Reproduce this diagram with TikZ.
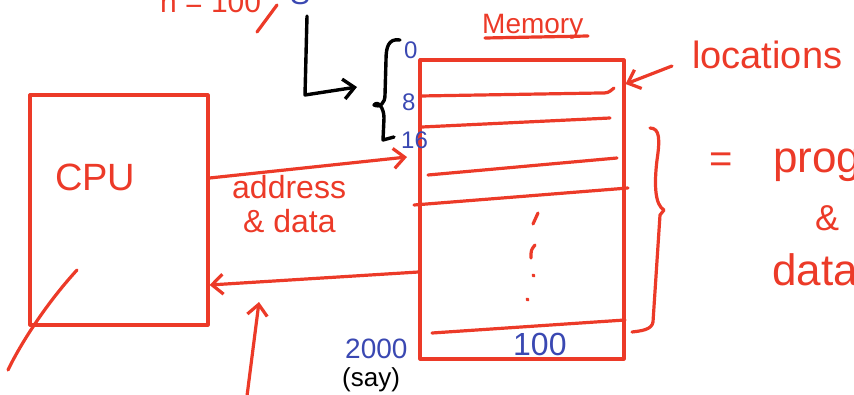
\documentclass[tikz,border=0pt]{standalone}
\usepackage{fontspec}
\setmainfont{Liberation Sans}
\usetikzlibrary{arrows.meta}

\definecolor{ink}{RGB}{236,58,40}
\definecolor{pen}{RGB}{58,72,178}

\tikzset{
  redpen/.style = {draw = ink, line width = 3.2pt, line cap = round, line join = round},
  blkpen/.style = {draw = black, line width = 3.4pt, line cap = round, line join = round},
  barb/.style = {-{Straight Barb[length = 11pt, width = 20pt]}},
  scrawl/.style = {inner sep = 0pt, anchor = base west, text = ink},
}
\newcommand{\pt}[1]{\fontsize{#1}{#1}\selectfont}

\begin{document}
\begin{tikzpicture}[x = 1pt, y = -1pt]
      \useasboundingbox (0, 0) rectangle (854, 394);

      % cpu
      % ---
      \node [redpen, inner sep = 0pt, minimum width = 178pt, minimum height = 230pt]
        (cpu) at (119, 210) {};
      \node [scrawl, font = \pt{38}] (cpulabel) at (55, 190) {CPU};

      % memory
      % ------
      \node [redpen, inner sep = 0pt, minimum width = 204pt, minimum height = 299pt]
        (memory) at (522, 209.5) {};
      \node [scrawl, font = \pt{28}] (memlabel) at (482, 33) {Memory};
      \draw [redpen] (485, 38) -- (588, 36);

      \draw [redpen] (420, 96) -- (600, 93) .. controls (608, 93) .. (614, 88);
      \draw [redpen] (422, 127) -- (610, 118);
      \draw [redpen] (428, 175) -- (617, 158);
      \draw [redpen] (414, 205) -- (628, 188);
      \draw [redpen] (432, 333) -- (625, 320);

      \draw [redpen] (538, 213) -- (533, 224);
      \draw [redpen] (535, 245) .. controls (531, 250) .. (531, 258);
      \draw [redpen] (533, 275) -- (534, 276);
      \draw [redpen] (527, 299) -- (528, 300);

      \node [scrawl, text = pen, font = \pt{32}] (last) at (513, 355) {100};
      \node [scrawl, text = pen, font = \pt{24}] (addr0) at (404, 58) {0};
      \node [scrawl, text = pen, font = \pt{24}] (addr8) at (402, 110) {8};
      \node [scrawl, text = pen, font = \pt{24}] (addr16) at (401, 148) {16};
      \node [scrawl, text = pen, font = \pt{28}] (top) at (345, 358) {2000};
      \node [scrawl, text = black, font = \pt{26}] (say) at (342, 386) {(say)};

      % buses
      % -----
      \coordinate (addrtip) at (407, 157);
      \draw [redpen, barb] (cpu.east |- 0, 178) -- (addrtip);
      \node [scrawl, font = \pt{32}] (addrlabel) at (232, 198) {address};
      \node [scrawl, font = \pt{32}] (datalabel) at (243, 232) {\& data};
      \draw [redpen, barb] (memory.west |- 0, 272) -- (cpu.east |- 0, 285);

      % loose strokes
      % -------------
      \coordinate (uptail) at (247, 396);
      \coordinate (uptip) at (259, 302);
      \draw [redpen, barb] (uptail) -- (uptip);
      \coordinate (lowtail) at (8, 370);
      \coordinate (lowtip) at (77, 270);
      \draw [redpen] (lowtail) .. controls (20, 345) and (45, 305) .. (lowtip);

      \node [scrawl, font = \pt{30}] (nval) at (160, 12) {n = 100};
      \draw [redpen] (277, 5) -- (257, 32);
      \node [scrawl, text = pen, font = \pt{30}] (sval) at (290, 4) {S};

      % pointer and brace
      % -----------------
      \coordinate (sfoot) at (307, 16);
      \coordinate (elltip) at (357, 87);
      \draw [blkpen, barb]
        (sfoot) --
        (305, 95) --
        (elltip)
      ;
      \draw [blkpen]
        (400, 40) .. controls (388, 38) and (386, 48) .. (386, 60) --
        (385, 95) .. controls (385, 103) and (380, 108) .. (374, 105) ..
        controls (378, 100) and (384, 108) .. (384, 118) --
        (383, 140) --
        (394, 137)
      ;

      % labels on the right
      % -------------------
      \node [scrawl, font = \pt{38}] (locations) at (692, 68) {locations};
      \coordinate (loctail) at (672, 66);
      \draw [redpen, barb] (loctail) -- (memory.east |- 0, 84);

      \draw [redpen]
        (650, 128) .. controls (660, 128) and (660, 140) .. (657, 160) ..
        controls (654, 185) and (655, 205) .. (664, 210) --
        (660, 215) --
        (653, 322) .. controls (652, 330) and (640, 331) .. (632, 332)
      ;
      \node [text = ink, inner sep = 0pt, font = \pt{40}] (eq) at (721, 163) {=};
      \node [scrawl, font = \pt{44}] (prog) at (773, 172) {prog};
      \node [scrawl, font = \pt{36}] (amp) at (815, 230) {\&};
      \node [scrawl, font = \pt{44}] (data) at (772, 285) {data};
\end{tikzpicture}
\end{document}
